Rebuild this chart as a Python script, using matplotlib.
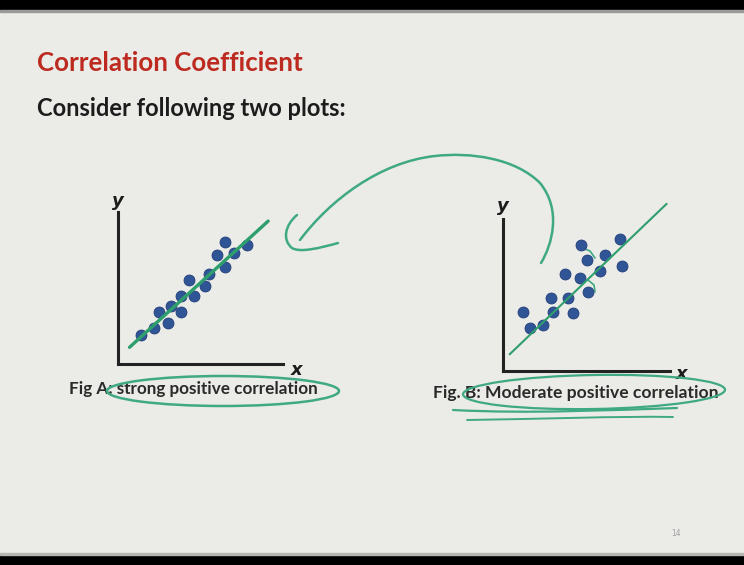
import matplotlib.pyplot as plt
from matplotlib.patches import Rectangle, Ellipse, PathPatch
from matplotlib.path import Path
import numpy as np

# Fig A: strong positive correlation
a_x = [1.4, 2.2, 2.5, 3.0, 3.2, 3.8, 3.8, 4.3, 4.6, 5.3, 5.5, 6.0, 6.5, 6.5, 7.0, 7.8]
a_y = [1.9, 2.4, 3.4, 2.7, 3.8, 3.4, 4.5, 5.5, 4.5, 5.1, 5.9, 7.2, 8.0, 6.4, 7.3, 7.8]
a_fit_x = [0.7, 9.1]
a_fit_y = [1.1, 9.4]

# Fig B: moderate positive correlation
b_x = [1.2, 1.6, 2.4, 2.9, 3.0, 3.7, 3.9, 4.2, 4.6, 4.7, 5.0, 5.1, 5.8, 6.1, 7.0, 7.1]
b_y = [3.9, 2.8, 3.0, 4.8, 3.9, 6.4, 4.8, 3.8, 6.1, 8.3, 7.3, 5.2, 6.6, 7.6, 8.7, 6.9]
b_fit_x = [0.4, 9.8]
b_fit_y = [1.1, 11.0]

W, H = 744, 565
BG = '#ebebe8'
PEN = '#3fa984'
DOT = '#2f5597'

fig = plt.figure(figsize=(W / 100, H / 100), dpi=100)
fig.patch.set_facecolor(BG)

# page canvas in pixel units (y down)
bg = fig.add_axes([0, 0, 1, 1])
bg.set_xlim(0, W)
bg.set_ylim(H, 0)
bg.axis('off')
bg.add_patch(Rectangle((0, 0), W, 10, color='black'))
bg.add_patch(Rectangle((0, 10), W, 2, color='#9a9a98'))
bg.add_patch(Rectangle((0, 555), W, 10, color='black'))
bg.add_patch(Rectangle((0, 553), W, 2, color='#b5b5b3'))

bg.text(37, 63, 'Correlation Coefficient', fontsize=18.6, fontweight='bold',
        family='Lato', color='#bd2a1f', va='center', ha='left')
bg.text(37, 108, 'Consider following two plots:', fontsize=17, fontweight='bold',
        family='Lato', color='#1c1c1c', va='center', ha='left')
bg.text(676, 534, '14', fontsize=5.5, color='#a0a0a0', va='center', ha='center')


def scatter_panel(box, xs, ys, fx, fy, lw):
    left, top, right, bottom = box
    ax = fig.add_axes([left / W, 1 - bottom / H, (right - left) / W, (bottom - top) / H])
    ax.set_xlim(0, 10)
    ax.set_ylim(0, 10)
    ax.patch.set_visible(False)
    for side in ['top', 'right']:
        ax.spines[side].set_visible(False)
    for side in ['left', 'bottom']:
        ax.spines[side].set_linewidth(2.2)
        ax.spines[side].set_color('#222222')
    ax.set_xticks([])
    ax.set_yticks([])
    ax.scatter(xs, ys, s=62, color=DOT, edgecolor='#243f78', linewidth=0.6, zorder=2)
    ax.plot(fx, fy, color='#2e9f6c', lw=lw, solid_capstyle='round', zorder=3, clip_on=False)
    return ax


axA = scatter_panel((118, 212, 283, 364), a_x, a_y, a_fit_x, a_fit_y, 2.4)
axB = scatter_panel((503, 219, 670, 371), b_x, b_y, b_fit_x, b_fit_y, 1.5)

# axis letters
for x, y, s in [(118, 201, 'y'), (297, 370, 'x'), (503, 206, 'y'), (682, 374, 'x')]:
    bg.text(x, y, s, fontsize=13, fontweight='bold', style='italic', family='DejaVu Sans',
            color='#1c1c1c', ha='center', va='center')

# captions
bg.text(69, 389, 'Fig A: strong positive correlation', fontsize=12.3, fontweight='bold',
        family='Lato', color='#2a2a2a', ha='left', va='center')
bg.text(433, 393, 'Fig. B: Moderate positive correlation', fontsize=12.6, fontweight='bold',
        family='Lato', color='#2a2a2a', ha='left', va='center')


def stroke(verts, codes, lw=1.8):
    bg.add_patch(PathPatch(Path(verts, codes), fill=False, edgecolor=PEN, lw=lw,
                           capstyle='round', joinstyle='round', zorder=5))


M, C = Path.MOVETO, Path.CURVE4
L = Path.LINETO

# curved arrow from Fig B back to Fig A
stroke([(541, 263), (552, 245), (562, 210), (540, 183),
        (515, 158), (470, 152), (435, 156),
        (380, 162), (330, 200), (300, 240)],
       [M, C, C, C, C, C, C, C, C, C])
stroke([(297, 215), (285, 225), (282, 240), (292, 248),
        (300, 253), (320, 248), (338, 243)],
       [M, C, C, C, C, C, C])

# loops round the captions
bg.add_patch(Ellipse((223, 391), 232, 30, fill=False, edgecolor=PEN, lw=1.8, zorder=5))
bg.add_patch(Ellipse((594, 392), 262, 34, angle=-1, fill=False, edgecolor=PEN, lw=1.6, zorder=5))
stroke([(453, 410), (530, 414), (610, 410), (677, 408)], [M, C, C, C], lw=1.6)
stroke([(467, 420), (540, 419), (620, 416), (673, 417)], [M, C, C, C], lw=1.4)

# small pen marks on Fig B
stroke([(582, 248), (590, 251), (595, 258)], [M, L, L], lw=1.2)
stroke([(588, 280), (594, 285), (595, 292)], [M, L, L], lw=1.2)

fig.savefig('out.png', dpi=100, facecolor=BG)
